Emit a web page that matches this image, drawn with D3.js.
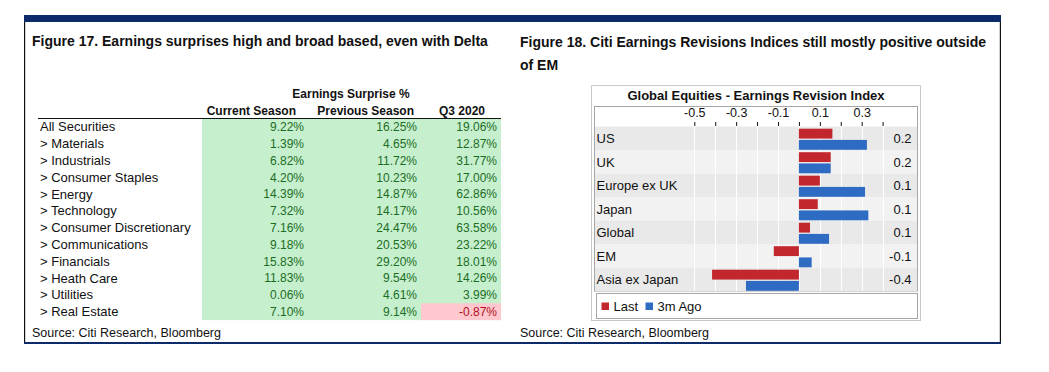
<!DOCTYPE html>
<html>
<head>
<meta charset="utf-8">
<script src="https://cdn.jsdelivr.net/npm/d3@7"></script>
<style>
  html, body { margin: 0; padding: 0; background: #fff; }
  svg { display: block; font-family: Arial, "Liberation Sans", sans-serif; }
</style>
</head>
<body>
<svg id="chart" width="1049" height="372"></svg>
<script>
// ---------- Figure 17 data ----------
const leftTitle = "Figure 17. Earnings surprises high and broad based, even with Delta";
const tableSuperHeader = "Earnings Surprise %";
const columnHeaders = ["Current Season", "Previous Season", "Q3 2020"];
const sectors = ["All Securities", "> Materials", "> Industrials", "> Consumer Staples", "> Energy",
  "> Technology", "> Consumer Discretionary", "> Communications", "> Financials", "> Heath Care",
  "> Utilities", "> Real Estate"];
const currentSeason = [9.22, 1.39, 6.82, 4.20, 14.39, 7.32, 7.16, 9.18, 15.83, 11.83, 0.06, 7.10];
const previousSeason = [16.25, 4.65, 11.72, 10.23, 14.87, 14.17, 24.47, 20.53, 29.20, 9.54, 4.61, 9.14];
const q3_2020 = [19.06, 12.87, 31.77, 17.00, 62.86, 10.56, 63.58, 23.22, 18.01, 14.26, 3.99, -0.87];
const sourceText = "Source: Citi Research, Bloomberg";

// ---------- Figure 18 data ----------
const rightTitle1 = "Figure 18. Citi Earnings Revisions Indices still mostly positive outside";
const rightTitle2 = "of EM";
const chartTitle = "Global Equities - Earnings Revision Index";
const regions = ["US", "UK", "Europe ex UK", "Japan", "Global", "EM", "Asia ex Japan"];
const lastValues = [0.16, 0.152, 0.10, 0.09, 0.053, -0.12, -0.415];
const ago3mValues = [0.325, 0.152, 0.316, 0.332, 0.144, 0.061, -0.253];
const valueLabels = ["0.2", "0.2", "0.1", "0.1", "0.1", "-0.1", "-0.4"];
const tickValues = [-0.5, -0.4, -0.3, -0.2, -0.1, 0, 0.1, 0.2, 0.3, 0.4];
const tickLabels = ["-0.5", "-0.3", "-0.1", "0.1", "0.3"];
const seriesNames = ["Last", "3m Ago"];

const svg = d3.select("#chart");
const NAVY = "#0c2b68";
const RED = "#c1272d";
const BLUE = "#2e6cc4";

// ---------- frame ----------
svg.append("rect").attr("x", 24).attr("y", 15).attr("width", 977).attr("height", 7).attr("fill", NAVY);
svg.append("rect").attr("x", 24).attr("y", 22).attr("width", 1.2).attr("height", 321).attr("fill", "#111");
svg.append("rect").attr("x", 999.8).attr("y", 22).attr("width", 1.2).attr("height", 321).attr("fill", "#111");
svg.append("rect").attr("x", 24).attr("y", 342).attr("width", 977).attr("height", 2).attr("fill", NAVY);

// ---------- left: table ----------
svg.append("text").attr("x", 32).attr("y", 46).attr("font-size", 14).attr("font-weight", "bold")
  .attr("fill", "#111").text(leftTitle);

const rowScale = d3.scaleBand().domain(d3.range(sectors.length)).range([118.5, 320.1]);
const colRight = [304, 417, 497];
const colFillX = [202, 308, 421, 501];
const headerRight = [296, 414, 485];

svg.append("text").attr("x", 351).attr("y", 98).attr("text-anchor", "middle")
  .attr("font-size", 12).attr("font-weight", "bold").attr("fill", "#111").text(tableSuperHeader);
svg.selectAll("text.colhead").data(columnHeaders).join("text").attr("class", "colhead")
  .attr("x", (d, i) => headerRight[i]).attr("y", 114.5).attr("text-anchor", "end")
  .attr("font-size", 12).attr("font-weight", "bold").attr("fill", "#111").text(d => d);

// green fill block
svg.append("rect").attr("x", colFillX[0]).attr("y", rowScale.range()[0])
  .attr("width", colFillX[3] - colFillX[0]).attr("height", rowScale.range()[1] - rowScale.range()[0])
  .attr("fill", "#c6efce");

svg.append("line").attr("x1", 38).attr("x2", 501).attr("y1", 118.5).attr("y2", 118.5)
  .attr("stroke", "#111").attr("stroke-width", 1);

const columns = [currentSeason, previousSeason, q3_2020];
const fmt = d => d.toFixed(2) + "%";
columns.forEach((col, ci) => {
  svg.selectAll("rect.neg" + ci).data(col.map((v, i) => ({ v, i })).filter(d => d.v < 0))
    .join("rect").attr("class", "neg" + ci)
    .attr("x", colFillX[ci === 2 ? 2 : ci]).attr("y", d => rowScale(d.i))
    .attr("width", colFillX[3] - colFillX[2]).attr("height", rowScale.bandwidth())
    .attr("fill", "#ffc7ce");
  svg.selectAll("text.val" + ci).data(col).join("text").attr("class", "val" + ci)
    .attr("x", colRight[ci]).attr("y", (d, i) => rowScale(i) + rowScale.bandwidth() / 2 + 4.3)
    .attr("text-anchor", "end").attr("font-size", 12)
    .attr("fill", d => d < 0 ? "#b0101e" : "#1b6d1f").text(fmt);
});

svg.selectAll("text.sector").data(sectors).join("text").attr("class", "sector")
  .attr("x", 40).attr("y", (d, i) => rowScale(i) + rowScale.bandwidth() / 2 + 4.5)
  .attr("font-size", 13).attr("fill", "#111").text(d => d);

svg.append("text").attr("x", 32).attr("y", 337).attr("font-size", 12.5).attr("fill", "#111").text(sourceText);

// ---------- right: bar chart ----------
svg.append("text").attr("x", 520).attr("y", 47).attr("font-size", 14).attr("font-weight", "bold")
  .attr("fill", "#111").text(rightTitle1);
svg.append("text").attr("x", 520).attr("y", 70).attr("font-size", 14).attr("font-weight", "bold")
  .attr("fill", "#111").text(rightTitle2);
svg.append("text").attr("x", 520).attr("y", 337).attr("font-size", 12.5).attr("fill", "#111").text(sourceText);

// outer chart box
svg.append("rect").attr("x", 591.5).attr("y", 85.5).attr("width", 329).attr("height", 235)
  .attr("fill", "#fff").attr("stroke", "#c8c8c8");
svg.append("text").attr("x", 756).attr("y", 99.5).attr("text-anchor", "middle")
  .attr("font-size", 13).attr("font-weight", "bold").attr("fill", "#111").text(chartTitle);

const plotLeft = 594, plotRight = 918, plotTop = 126.5, plotBottom = 291;
svg.append("rect").attr("x", plotLeft + 0.5).attr("y", 106.5).attr("width", plotRight - plotLeft - 1)
  .attr("height", plotBottom - 106.5).attr("fill", "#fff").attr("stroke", "#a6a6a6");

const x = d3.scaleLinear().domain([-0.5, 0.4]).range([694.3, 882.6]);
const y = d3.scaleBand().domain(regions).range([plotTop, plotBottom]);
const ySub = d3.scaleBand().domain(seriesNames).range([2.2, y.bandwidth() - 0.2]).paddingInner(0.12);

// row bands
svg.selectAll("rect.band").data(regions).join("rect").attr("class", "band")
  .attr("x", plotLeft + 1).attr("y", d => y(d)).attr("width", plotRight - plotLeft - 2)
  .attr("height", y.bandwidth()).attr("fill", (d, i) => i % 2 === 0 ? "#e9e9e9" : "#f2f2f2");

// vertical white gridlines
svg.selectAll("line.grid").data(tickValues).join("line").attr("class", "grid")
  .attr("x1", d => Math.round(x(d)) + 0.5).attr("x2", d => Math.round(x(d)) + 0.5)
  .attr("y1", plotTop).attr("y2", plotBottom).attr("stroke", "#fff").attr("stroke-width", 1);

// top axis
const tickText = d => {
  const s = (Math.abs(d) < 1e-9 ? 0 : d).toFixed(1);
  return tickLabels.includes(s) ? s : "";
};
const axis = d3.axisTop(x).tickValues(tickValues).tickSize(4).tickFormat(tickText);
const gAxis = svg.append("g").attr("transform", `translate(0,${plotTop - 0.5})`).call(axis);
gAxis.select(".domain").remove();
gAxis.selectAll(".tick line").attr("stroke", "#111");
gAxis.selectAll(".tick text").attr("font-size", 12.5).attr("fill", "#111")
  .attr("font-family", "Arial, 'Liberation Sans', sans-serif").attr("dy", "-0.15em");

// bars
const series = [
  { name: seriesNames[0], values: lastValues, color: RED },
  { name: seriesNames[1], values: ago3mValues, color: BLUE }
];
series.forEach(s => {
  svg.selectAll(null).data(regions).join("rect")
    .attr("x", (d, i) => x(Math.min(0, s.values[i])))
    .attr("y", d => y(d) + ySub(s.name))
    .attr("width", (d, i) => Math.abs(x(s.values[i]) - x(0)))
    .attr("height", ySub.bandwidth())
    .attr("fill", s.color);
});

// category labels
svg.selectAll("text.region").data(regions).join("text").attr("class", "region")
  .attr("x", 596.5).attr("y", d => y(d) + y.bandwidth() / 2 + 5)
  .attr("font-size", 13).attr("fill", "#111").text(d => d);

// value labels
svg.selectAll("text.vlabel").data(valueLabels).join("text").attr("class", "vlabel")
  .attr("x", 911.5).attr("y", (d, i) => y(regions[i]) + y.bandwidth() / 2 + 5)
  .attr("text-anchor", "end").attr("font-size", 13).attr("fill", "#111").text(d => d);

// legend box
svg.append("rect").attr("x", 596.5).attr("y", 293.5).attr("width", 321).attr("height", 25)
  .attr("fill", "#fff").attr("stroke", "#a6a6a6");
const legendX = [601.5, 645.5];
const legend = svg.selectAll("g.leg").data(series).join("g").attr("class", "leg")
  .attr("transform", (d, i) => `translate(${legendX[i]},302.5)`);
legend.append("rect").attr("width", 7.5).attr("height", 7.5).attr("fill", d => d.color);
legend.append("text").attr("x", 12).attr("y", 8.5).attr("font-size", 13).attr("fill", "#111").text(d => d.name);
</script>
</body>
</html>
